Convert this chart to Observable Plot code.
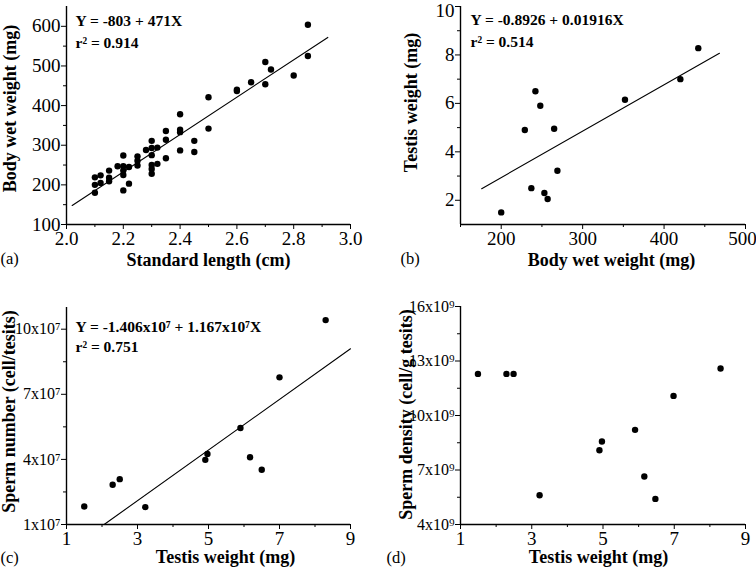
<!DOCTYPE html>
<html><head><meta charset="utf-8">
<script src="https://cdn.jsdelivr.net/npm/d3@7"></script>
<script src="https://cdn.jsdelivr.net/npm/@observablehq/plot@0.6"></script>
<style>
body{margin:0;background:#fff;}
#wrap{position:relative;width:756px;height:568px;overflow:hidden;background:#fff;font-family:"Liberation Serif","Times New Roman",serif;}
.panel{position:absolute;width:378px;height:284px;}
</style></head><body>
<div id="wrap">
<div class="panel" id="pa" style="left:0;top:0"></div>
<div class="panel" id="pb" style="left:378px;top:0"></div>
<div class="panel" id="pc" style="left:0;top:284px"></div>
<div class="panel" id="pd" style="left:378px;top:284px"></div>
</div>
<script>
// ---- Panel (a): standard length vs body wet weight
const lengthA = [2.10,2.10,2.10, 2.12,2.12, 2.15,2.15,2.15, 2.18, 2.20,2.20,2.20,2.20,2.20, 2.22,2.22, 2.25,2.25,2.25, 2.28, 2.30,2.30,2.30,2.30,2.30,2.30, 2.32,2.32, 2.35,2.35,2.35, 2.40,2.40,2.40,2.40, 2.45,2.45, 2.50,2.50, 2.60,2.60, 2.65, 2.70,2.70, 2.72, 2.80, 2.85,2.85];
const weightA = [219,200,180, 224,205, 236,218,209, 247, 274,247,236,225,186, 245,203, 272,261,249, 288, 311,293,275,250,240,228, 294,253, 336,314,267, 378,339,333,287, 311,283, 421,342, 440,437, 459, 510,454, 491, 476, 604,525];
const fitAx = [2.02, 2.92];
const fitAy = [148, 572];
const ticksAX = [2.0,2.2,2.4,2.6,2.8,3.0];
const labelsAX = ["2.0","2.2","2.4","2.6","2.8","3.0"];
const minorAX = [2.1,2.3,2.5,2.7,2.9];
const ticksAY = [100,200,300,400,500,600];
const labelsAY = ["100","200","300","400","500","600"];
const minorAY = [150,250,350,450,550];

// ---- Panel (b): body wet weight vs testis weight
const bodyB = [200,229,242,248,237,253,257,265,269,352,420,442];
const testisB = [1.5,4.9,6.5,5.9,2.5,2.3,2.05,4.95,3.22,6.15,7.0,8.28];
const fitBx = [176, 468];
const fitBy = [2.48, 8.07];
const ticksBX = [200,300,400,500];
const labelsBX = ["200","300","400","500"];
const minorBX = [150,250,350,450];
const ticksBY = [2,4,6,8,10];
const labelsBY = ["2","4","6","8","10"];
const minorBY = [3,5,7,9];

// ---- Panel (c): testis weight vs sperm number
const testisC = [1.50,2.30,2.50,3.22,4.91,4.97,5.90,6.17,6.50,7.00,8.30];
const spermC = [1.83e7,2.83e7,3.09e7,1.80e7,3.98e7,4.25e7,5.45e7,4.10e7,3.52e7,7.78e7,10.42e7];
const fitCx = [2.06, 9.0];
const fitCy = [1.0e7, 9.1e7];
const ticksCX = [1,3,5,7,9];
const labelsCX = ["1","3","5","7","9"];
const minorCX = [2,4,6,8];
const ticksCY = [1e7,4e7,7e7,10e7];
const labelsCY = ["1x10\u2077","4x10\u2077","7x10\u2077","10x10\u2077"];
const minorCY = [2.5e7,5.5e7,8.5e7];

// ---- Panel (d): testis weight vs sperm density
const testisD = [1.49,2.29,2.49,3.22,4.90,4.97,5.90,6.16,6.47,6.98,8.30];
const densityD = [12.29e9,12.29e9,12.29e9,5.61e9,8.09e9,8.57e9,9.21e9,6.64e9,5.41e9,11.08e9,12.59e9];
const ticksDY = [4e9,7e9,10e9,13e9,16e9];
const labelsDY = ["4x10\u2079","7x10\u2079","10x10\u2079","13x10\u2079","16x10\u2079"];
const minorDY = [5.5e9,8.5e9,11.5e9,14.5e9];

const FONT = '"Liberation Serif","Times New Roman",serif';

function shift(t, dx, dy) {
  t.setAttribute("transform", ((t.getAttribute("transform") || "") + ` translate(${dx},${dy})`).trim());
}

function panel(o) {
  const xl = new Map(o.xTicks.map((d,i)=>[d,o.xLabels[i]]));
  const yl = new Map(o.yTicks.map((d,i)=>[d,o.yLabels[i]]));
  const pts = o.xs.map((x,i)=>({x, y:o.ys[i]}));
  const marks = [
    Plot.axisX(o.xMinor, {tickSize:3, tickFormat:()=>"", label:null, stroke:"black"}),
    Plot.axisX(o.xTicks, {tickSize:5, tickPadding:2, tickFormat:d=>xl.get(d), label:null, stroke:"black", fill:"black"}),
    Plot.axisY(o.yMinor, {tickSize:3, tickFormat:()=>"", label:null, stroke:"black"}),
    Plot.axisY(o.yTicks, {tickSize:5, tickPadding:1, tickFormat:d=>yl.get(d), label:null, stroke:"black", fill:"black"}),
    Plot.ruleX([o.xDomain[0]], {stroke:"black", strokeWidth:1.4}),
    Plot.ruleY([o.yDomain[0]], {stroke:"black", strokeWidth:1.4}),
  ];
  if (o.fitX) {
    marks.push(Plot.line(o.fitX.map((x,i)=>({x, y:o.fitY[i]})), {x:"x", y:"y", stroke:"black", strokeWidth:1.1}));
  }
  marks.push(Plot.dot(pts, {x:"x", y:"y", r:3.2, fill:"black", stroke:"none"}));
  marks.push(Plot.text([o.xTitle], {frameAnchor:"bottom", dx:o.xtDx, dy:o.xtDy, lineAnchor:"middle", textAnchor:"middle", fontWeight:"bold", fontSize:18, fill:"black"}));
  marks.push(Plot.text([o.yTitle], {frameAnchor:"top-left", dx:o.ytDx, dy:o.ytDy, rotate:-90, lineAnchor:"middle", textAnchor:"middle", fontWeight:"bold", fontSize:18, fill:"black"}));
  marks.push(Plot.text([o.tag], {frameAnchor:"bottom-left", dx:o.tagDx, dy:o.tagDy, lineAnchor:"middle", textAnchor:"start", fontSize:16.5, fill:"black"}));
  if (o.eq) {
    o.eq.forEach((t,i)=>{
      marks.push(Plot.text([t], {frameAnchor:"top-left", dx:o.eqDx, dy:o.eqDy[i], lineAnchor:"middle", textAnchor:"start", fontWeight:"bold", fontSize:15.5, fill:"black"}));
    });
  }
  const svg = Plot.plot({
    width:378, height:284,
    marginLeft:o.m[0], marginRight:o.m[1], marginTop:o.m[2], marginBottom:o.m[3],
    x:{domain:o.xDomain},
    y:{domain:o.yDomain},
    style:{fontFamily:FONT, fontSize:"17px", color:"black", background:"transparent", overflow:"visible"},
    marks
  });
  svg.querySelectorAll("text").forEach(t => { t.style.fontFamily = FONT; });
  svg.querySelectorAll('g[aria-label="x-axis tick label"] text').forEach(t => {
    t.style.fontSize = o.tickFont + "px";
    if (o.lastLabelShift && t.textContent === o.xLabels[o.xLabels.length-1]) shift(t, o.lastLabelShift, 0);
  });
  svg.querySelectorAll('g[aria-label="y-axis tick label"] text').forEach(t => {
    t.style.fontSize = (o.yTickFont || o.tickFont) + "px";
    if (o.topLabelShift && t.textContent === o.yLabels[o.yLabels.length-1]) shift(t, 0, o.topLabelShift);
  });
  return svg;
}

document.getElementById("pa").append(panel({
  xs:lengthA, ys:weightA, fitX:fitAx, fitY:fitAy,
  xDomain:[2.0,3.0], yDomain:[100,650],
  xTicks:ticksAX, xLabels:labelsAX, xMinor:minorAX,
  yTicks:ticksAY, yLabels:labelsAY, yMinor:minorAY,
  tickFont:19, m:[66,28,6,60],
  xTitle:"Standard length (cm)", xtDx:0, xtDy:36,
  yTitle:"Body wet weight (mg)", ytDx:-56, ytDy:102,
  tag:"(a)", tagDx:-66, tagDy:34,
  eq:["Y = -803 + 471X","r\u00B2 = 0.914"], eqDx:9, eqDy:[15,37]
}));

document.getElementById("pb").append(panel({
  xs:bodyB, ys:testisB, fitX:fitBx, fitY:fitBy,
  xDomain:[150,500], yDomain:[1,10],
  xTicks:ticksBX, xLabels:labelsBX, xMinor:minorBX,
  yTicks:ticksBY, yLabels:labelsBY, yMinor:minorBY,
  tickFont:19, lastLabelShift:-3, topLabelShift:4, m:[82,11,6,60],
  xTitle:"Body wet weight (mg)", xtDx:8.5, xtDy:36,
  yTitle:"Testis weight (mg)", ytDx:-49, ytDy:96,
  tag:"(b)", tagDx:-60, tagDy:34,
  eq:["Y = -0.8926 + 0.01916X","r\u00B2 = 0.514"], eqDx:10, eqDy:[14,36]
}));

document.getElementById("pc").append(panel({
  xs:testisC, ys:spermC, fitX:fitCx, fitY:fitCy,
  xDomain:[1,9], yDomain:[1e7,11e7],
  xTicks:ticksCX, xLabels:labelsCX, xMinor:minorCX,
  yTicks:ticksCY, yLabels:labelsCY, yMinor:minorCY,
  tickFont:19, yTickFont:16, m:[66,28,23,44],
  xTitle:"Testis weight (mg)", xtDx:17, xtDy:33,
  yTitle:"Sperm number (cell/tesits)", ytDx:-57, ytDy:104,
  tag:"(c)", tagDx:-66, tagDy:33,
  eq:["Y = -1.406x10\u2077 + 1.167x10\u2077X","r\u00B2 = 0.751"], eqDx:9, eqDy:[20,40]
}));

document.getElementById("pd").append(panel({
  xs:testisD, ys:densityD,
  xDomain:[1,9], yDomain:[4e9,16e9],
  xTicks:ticksCX, xLabels:labelsCX, xMinor:minorCX,
  yTicks:ticksDY, yLabels:labelsDY, yMinor:minorDY,
  tickFont:19, yTickFont:16, m:[82,11,22,44],
  xTitle:"Testis weight (mg)", xtDx:-4.5, xtDy:33,
  yTitle:"Sperm density (cell/g tesits)", ytDx:-54, ytDy:108,
  tag:"(d)", tagDx:-74, tagDy:33
}));
</script>
</body></html>
